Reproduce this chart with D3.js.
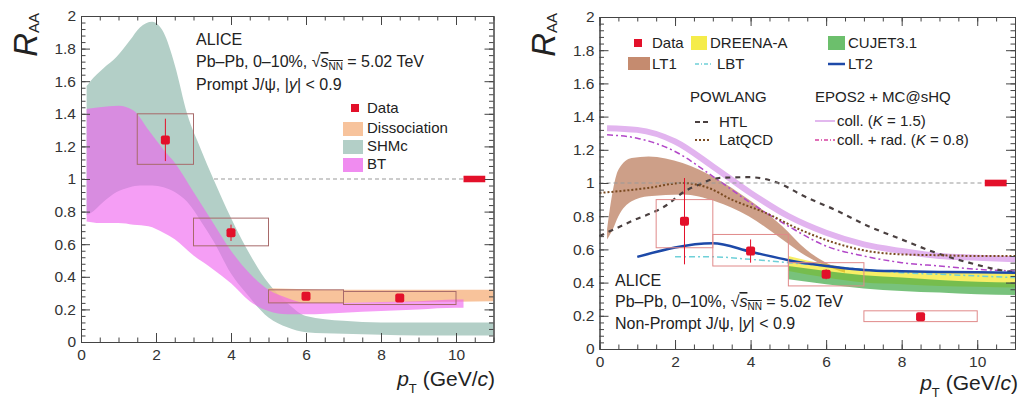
<!DOCTYPE html>
<html>
<head>
<meta charset="utf-8">
<script src="https://cdn.jsdelivr.net/npm/d3@7"></script>
<style>
  body { margin: 0; background: #fff; }
  svg text { font-family: "Liberation Sans", Arial, Helvetica, sans-serif; fill: #222; }
  .tick text { font-size: 15px; fill: #333; }
  .tick line, .domain { stroke: #444; }
  .lbl { font-size: 16px; }
  .leg { font-size: 15px; }
</style>
</head>
<body>
<script>
// ---- prompt J/psi (left) ----
var promptPt = [2.25, 4, 6, 8.5];
var promptRaa = [1.24, 0.67, 0.28, 0.27];
var promptStat = [0.13, 0.05, 0.02, 0.02];
var promptBinLo = [1.5, 3, 5, 7];
var promptBinHi = [3, 5, 7, 10];
var promptSysLo = [1.09, 0.59, 0.24, 0.23];
var promptSysHi = [1.40, 0.76, 0.32, 0.31];

var shmcPt = [0.15, 0.25, 0.6, 0.95, 1.3, 1.57, 1.9, 2.2, 2.5, 2.83, 3.2, 3.53, 4, 4.4, 5, 5.5, 6, 7, 8, 9, 10, 11];
var shmcHi = [1.57, 1.6, 1.68, 1.75, 1.85, 1.93, 1.965, 1.9, 1.7, 1.4, 1.18, 1.0, 0.76, 0.58, 0.36, 0.24, 0.16, 0.13, 0.12, 0.12, 0.12, 0.12];
var shmcLo = [0.78, 0.79, 0.86, 0.92, 0.95, 0.96, 0.96, 0.95, 0.92, 0.86, 0.74, 0.62, 0.42, 0.3, 0.15, 0.09, 0.06, 0.05, 0.045, 0.04, 0.04, 0.04];

var btPt = [0.15, 0.5, 1, 1.4, 1.8, 2.2, 2.5, 3, 3.5, 4, 4.5, 5, 5.5, 6, 7, 8, 9, 10, 10.2];
var btHi = [1.43, 1.44, 1.45, 1.42, 1.3, 1.18, 1.1, 0.92, 0.74, 0.56, 0.42, 0.32, 0.27, 0.24, 0.24, 0.245, 0.25, 0.26, 0.26];
var btLo = [0.74, 0.73, 0.73, 0.72, 0.71, 0.67, 0.63, 0.53, 0.45, 0.36, 0.25, 0.19, 0.17, 0.17, 0.18, 0.19, 0.2, 0.21, 0.21];

var dissPt = [5, 7, 9, 11];
var dissHi = [0.33, 0.32, 0.32, 0.32];
var dissLo = [0.24, 0.24, 0.245, 0.25];

// ---- non-prompt J/psi (right) ----
var npPt = [2.25, 4, 6, 8.5];
var npRaa = [0.77, 0.59, 0.45, 0.195];
var npStat = [0.26, 0.07, 0.03, 0.015];
var npBinLo = [1.5, 3, 5, 7];
var npBinHi = [3, 5, 7, 10];
var npSysLo = [0.61, 0.5, 0.38, 0.165];
var npSysHi = [0.90, 0.69, 0.52, 0.23];

var lt1Pt = [0.2, 0.35, 0.5, 0.85, 1.3, 2.2, 3.06, 3.95, 4.84, 5.47, 6.0, 6.5];
var lt1Hi = [0.72, 0.95, 1.08, 1.15, 1.16, 1.12, 1.03, 0.9, 0.74, 0.6, 0.52, 0.48];
var lt1Lo = [0.66, 0.72, 0.8, 0.89, 0.92, 0.93, 0.89, 0.8, 0.66, 0.56, 0.5, 0.46];

var dreenaPt = [5, 6, 7, 8, 9, 10, 11];
var dreenaHi = [0.56, 0.51, 0.48, 0.47, 0.46, 0.46, 0.46];
var dreenaLo = [0.47, 0.43, 0.4, 0.39, 0.38, 0.375, 0.37];

var cujetPt = [5, 6, 7, 8, 9, 10, 11];
var cujetHi = [0.5, 0.47, 0.445, 0.43, 0.415, 0.405, 0.4];
var cujetLo = [0.42, 0.39, 0.365, 0.35, 0.34, 0.33, 0.325];

var lbtPt = [2, 3, 4, 5, 6, 7, 8, 9, 10, 11];
var lbtRaa = [0.555, 0.555, 0.54, 0.52, 0.5, 0.48, 0.46, 0.45, 0.44, 0.43];

var lt2Pt = [1, 3, 4, 5, 6, 7, 8, 9, 10, 11];
var lt2Raa = [0.555, 0.637, 0.586, 0.535, 0.5, 0.476, 0.468, 0.464, 0.462, 0.46];

var htlPt = [0, 0.85, 1.73, 2.26, 2.63, 3.16, 3.96, 4.84, 5.33, 6.22, 7.12, 8, 8.9, 9.78, 10.5, 11];
var htlRaa = [0.68, 0.77, 0.86, 0.95, 0.99, 1.03, 1.035, 0.99, 0.93, 0.84, 0.74, 0.66, 0.58, 0.52, 0.48, 0.46];

var latPt = [0, 1.29, 2.18, 2.89, 3.5, 4.4, 5.3, 6.22, 7.1, 8, 9, 10, 11];
var latRaa = [0.94, 0.97, 1.0, 0.97, 0.9, 0.82, 0.72, 0.64, 0.59, 0.57, 0.565, 0.56, 0.56];

var collPt = [0.2, 1, 2, 3, 4, 5, 6, 7, 8, 9, 10, 11];
var collRaa = [1.33, 1.32, 1.25, 1.1, 0.94, 0.8, 0.7, 0.63, 0.59, 0.56, 0.55, 0.54];

var radPt = [0.2, 1, 2, 3, 4, 5, 6, 7, 8, 9, 10, 11];
var radRaa = [1.29, 1.27, 1.19, 1.04, 0.88, 0.74, 0.62, 0.56, 0.52, 0.5, 0.48, 0.47];

var yTicks = d3.range(0, 2.001, 0.2);
var xTicks = [0, 2, 4, 6, 8, 10];

var svg = d3.select("body").append("svg").attr("width", 1019).attr("height", 403);

var red = "#e3102a";

function band(g, x, y, pt, hi, lo, color, op) {
  var rows = pt.map(function(d, i) { return {x: d, hi: hi[i], lo: lo[i]}; });
  g.append("path").datum(rows)
    .attr("d", d3.area().x(function(d) { return x(d.x); }).y0(function(d) { return y(d.lo); })
      .y1(function(d) { return y(d.hi); }).curve(d3.curveMonotoneX))
    .attr("fill", color).attr("fill-opacity", op);
}

function curve(g, x, y, pt, v, color, w, dash) {
  var rows = pt.map(function(d, i) { return [d, v[i]]; });
  g.append("path").datum(rows)
    .attr("d", d3.line().x(function(d) { return x(d[0]); }).y(function(d) { return y(d[1]); }).curve(d3.curveMonotoneX))
    .attr("fill", "none").attr("stroke", color).attr("stroke-width", w)
    .attr("stroke-dasharray", dash || null);
}

function unityLine(g, x, y) {
  g.append("line").attr("x1", x(0)).attr("x2", x(10.2)).attr("y1", y(1)).attr("y2", y(1))
    .attr("stroke", "#999").attr("stroke-dasharray", "4,3");
  g.append("rect").attr("x", x(10.2)).attr("width", x(10.78) - x(10.2))
    .attr("y", y(1.02)).attr("height", y(0.98) - y(1.02)).attr("fill", red);
}

function points(g, x, y, pt, raa, stat, bLo, bHi, sLo, sHi, boxColor) {
  pt.forEach(function(p, i) {
    g.append("rect").attr("x", x(bLo[i])).attr("width", x(bHi[i]) - x(bLo[i]))
      .attr("y", y(sHi[i])).attr("height", y(sLo[i]) - y(sHi[i]))
      .attr("fill", "none").attr("stroke", boxColor).attr("stroke-width", 1);
    g.append("line").attr("x1", x(p)).attr("x2", x(p))
      .attr("y1", y(raa[i] - stat[i])).attr("y2", y(raa[i] + stat[i]))
      .attr("stroke", red).attr("stroke-width", 1);
    g.append("rect").attr("x", x(p) - 4.5).attr("y", y(raa[i]) - 4.5)
      .attr("width", 9).attr("height", 9).attr("rx", 2).attr("fill", red);
  });
}

function frame(g, x, y) {
  var fmt = function(d) { return String(+d.toFixed(1)); };
  var x0 = x.range()[0], x1 = x.range()[1], y0 = y.range()[0], y1 = y.range()[1];
  g.append("g").attr("transform", "translate(0," + y0 + ")")
    .call(d3.axisBottom(x).tickValues(d3.range(0, 11.01, 0.5)).tickSize(-4.5).tickSizeOuter(0).tickFormat(""));
  g.append("g").attr("transform", "translate(0," + y0 + ")")
    .call(d3.axisBottom(x).tickValues(xTicks).tickSize(-9).tickSizeOuter(0).tickPadding(7).tickFormat(fmt));
  g.append("g").attr("transform", "translate(0," + y1 + ")")
    .call(d3.axisTop(x).tickValues(d3.range(0, 11.01, 0.5)).tickSize(-4.5).tickSizeOuter(0).tickFormat(""));
  g.append("g").attr("transform", "translate(0," + y1 + ")")
    .call(d3.axisTop(x).tickValues(xTicks).tickSize(-9).tickSizeOuter(0).tickFormat(""));
  g.append("g").attr("transform", "translate(" + x0 + ",0)")
    .call(d3.axisLeft(y).tickValues(d3.range(0, 2.001, 0.04)).tickSize(-4.5).tickSizeOuter(0).tickFormat(""));
  g.append("g").attr("transform", "translate(" + x0 + ",0)")
    .call(d3.axisLeft(y).tickValues(yTicks).tickSize(-9).tickSizeOuter(0).tickPadding(5).tickFormat(fmt));
  g.append("g").attr("transform", "translate(" + x1 + ",0)")
    .call(d3.axisRight(y).tickValues(d3.range(0, 2.001, 0.04)).tickSize(-4.5).tickSizeOuter(0).tickFormat(""));
  g.append("g").attr("transform", "translate(" + x1 + ",0)")
    .call(d3.axisRight(y).tickValues(yTicks).tickSize(-9).tickSizeOuter(0).tickFormat(""));
  g.selectAll(".tick line").attr("stroke", "#444");
  g.selectAll(".domain").attr("stroke", "#444");
  g.selectAll(".tick text").attr("fill", "#333").style("font-size", "15.5px");
}

function yTitle(g, px) {
  var t = g.append("text").attr("transform", "translate(" + px + ",13) rotate(-90)")
    .attr("text-anchor", "end");
  t.append("tspan").text("R").style("font-style", "italic").style("font-size", "33px");
  t.append("tspan").text("AA").style("font-size", "15px").attr("dy", 2);
}

function xTitle(g, px, py) {
  var t = g.append("text").attr("x", px).attr("y", py).attr("text-anchor", "end").style("font-size", "21px");
  t.append("tspan").text("p").style("font-style", "italic");
  t.append("tspan").text("T").style("font-size", "13px").attr("dy", 7);
  t.append("tspan").text(" (GeV/").attr("dy", -7);
  t.append("tspan").text("c").style("font-style", "italic");
  t.append("tspan").text(")");
}

function sysLine(g, px, py) {
  var t = g.append("text").attr("class", "lbl").attr("x", px).attr("y", py);
  t.append("tspan").text("Pb\u2013Pb, 0\u201310%, \u221A");
  var s = t.append("tspan").style("text-decoration", "overline");
  s.append("tspan").text("s").style("font-style", "italic");
  s.append("tspan").text("NN").style("font-size", "10px").attr("dy", 3);
  t.append("tspan").text(" = 5.02 TeV").attr("dy", -3);
}

function psiLine(g, px, py, label) {
  var t = g.append("text").attr("class", "lbl").attr("x", px).attr("y", py);
  t.append("tspan").text(label + " J/\u03C8, |");
  t.append("tspan").text("y").style("font-style", "italic");
  t.append("tspan").text("| < 0.9");
}

// ===== LEFT PANEL =====
var xL = d3.scaleLinear().domain([0, 11]).range([81, 493.5]);
var yL = d3.scaleLinear().domain([0, 2]).range([342, 16]);
var gL = svg.append("g");

unityLine(gL, xL, yL);
band(gL, xL, yL, shmcPt, shmcHi, shmcLo, "#b3cfc7", 1);
band(gL, xL, yL, dissPt, dissHi, dissLo, "#f7b98a", 0.85);
band(gL, xL, yL, btPt, btHi, btLo, "#ef62ef", 0.62);
points(gL, xL, yL, promptPt, promptRaa, promptStat, promptBinLo, promptBinHi, promptSysLo, promptSysHi, "#a86a6a");
frame(gL, xL, yL);
yTitle(gL, 37);
xTitle(gL, 495, 386);

gL.append("text").attr("class", "lbl").attr("x", 196).attr("y", 45).text("ALICE");
sysLine(gL, 196, 67);
psiLine(gL, 196, 90, "Prompt");

gL.append("rect").attr("x", 351).attr("y", 104).attr("width", 8).attr("height", 8).attr("fill", red);
gL.append("text").attr("class", "leg").attr("x", 367).attr("y", 113).text("Data");
var legL = [["Dissociation", "#f7c39c", 122], ["SHMc", "#b3cfc7", 140], ["BT", "#f08cf0", 158]];
legL.forEach(function(d) {
  gL.append("rect").attr("x", 343).attr("y", d[2]).attr("width", 20).attr("height", 14).attr("fill", d[1]);
  gL.append("text").attr("class", "leg").attr("x", 367).attr("y", d[2] + 11).text(d[0]);
});

// ===== RIGHT PANEL =====
var xR = d3.scaleLinear().domain([0, 11]).range([599.5, 1015]);
var yR = d3.scaleLinear().domain([0, 2]).range([349, 17]);
var gR = svg.append("g");

band(gR, xR, yR, lt1Pt, lt1Hi, lt1Lo, "#b5714f", 0.68);
band(gR, xR, yR, dreenaPt, dreenaHi, dreenaLo, "#f2e300", 0.6);
band(gR, xR, yR, cujetPt, cujetHi, cujetLo, "#3fa845", 0.7);
curve(gR, xR, yR, collPt, collRaa, "#e2b4ef", 6);
curve(gR, xR, yR, radPt, radRaa, "#b247c8", 1.5, "6,3,2,3");
curve(gR, xR, yR, htlPt, htlRaa, "#4a4040", 2.2, "5,5");
curve(gR, xR, yR, latPt, latRaa, "#7a4a20", 2, "2,2");
curve(gR, xR, yR, lbtPt, lbtRaa, "#6fd0d8", 1.5, "6,3,2,3");
curve(gR, xR, yR, lt2Pt, lt2Raa, "#1d49a8", 2.5);
unityLine(gR, xR, yR);
points(gR, xR, yR, npPt, npRaa, npStat, npBinLo, npBinHi, npSysLo, npSysHi, "#e08a8a");
frame(gR, xR, yR);
yTitle(gR, 555);
xTitle(gR, 1018, 390);

gR.append("text").attr("class", "lbl").attr("x", 615).attr("y", 286).text("ALICE");
sysLine(gR, 615, 307);
psiLine(gR, 615, 329, "Non-Prompt");

// legend
gR.append("rect").attr("x", 634).attr("y", 39).attr("width", 8).attr("height", 8).attr("fill", red);
gR.append("text").attr("class", "leg").attr("x", 652).attr("y", 48).text("Data");
gR.append("rect").attr("x", 691).attr("y", 36).attr("width", 16).attr("height", 14).attr("fill", "#f5ec4a");
gR.append("text").attr("class", "leg").attr("x", 710).attr("y", 48).text("DREENA-A");
gR.append("rect").attr("x", 828).attr("y", 36).attr("width", 17).attr("height", 14).attr("fill", "#6cbf6c");
gR.append("text").attr("class", "leg").attr("x", 848).attr("y", 48).text("CUJET3.1");
gR.append("rect").attr("x", 628).attr("y", 57).attr("width", 22).attr("height", 13).attr("fill", "#c58b6f");
gR.append("text").attr("class", "leg").attr("x", 652).attr("y", 69).text("LT1");
gR.append("line").attr("x1", 695).attr("x2", 711).attr("y1", 64).attr("y2", 64)
  .attr("stroke", "#6fd0d8").attr("stroke-width", 1.5).attr("stroke-dasharray", "4,2,1,2");
gR.append("text").attr("class", "leg").attr("x", 717).attr("y", 69).text("LBT");
gR.append("line").attr("x1", 828).attr("x2", 845).attr("y1", 64).attr("y2", 64)
  .attr("stroke", "#1d49a8").attr("stroke-width", 2.5);
gR.append("text").attr("class", "leg").attr("x", 848).attr("y", 69).text("LT2");

gR.append("text").attr("class", "leg").attr("x", 690).attr("y", 102).text("POWLANG");
gR.append("text").attr("class", "leg").attr("x", 815).attr("y", 102).text("EPOS2 + MC@sHQ");
gR.append("line").attr("x1", 695).attr("x2", 711).attr("y1", 122).attr("y2", 122)
  .attr("stroke", "#4a4040").attr("stroke-width", 2).attr("stroke-dasharray", "5,3");
gR.append("text").attr("class", "leg").attr("x", 719).attr("y", 127).text("HTL");
gR.append("line").attr("x1", 695).attr("x2", 711).attr("y1", 140).attr("y2", 140)
  .attr("stroke", "#7a4a20").attr("stroke-width", 2).attr("stroke-dasharray", "2,2");
gR.append("text").attr("class", "leg").attr("x", 719).attr("y", 145).text("LatQCD");
gR.append("line").attr("x1", 815).attr("x2", 835).attr("y1", 121).attr("y2", 121)
  .attr("stroke", "#d9a0e8").attr("stroke-width", 1.5);
var tc = gR.append("text").attr("class", "leg").attr("x", 837).attr("y", 126);
tc.append("tspan").text("coll. (");
tc.append("tspan").text("K").style("font-style", "italic");
tc.append("tspan").text(" = 1.5)");
gR.append("line").attr("x1", 815).attr("x2", 835).attr("y1", 140).attr("y2", 140)
  .attr("stroke", "#d640a0").attr("stroke-width", 1.5).attr("stroke-dasharray", "4,2,1,2");
var tr = gR.append("text").attr("class", "leg").attr("x", 837).attr("y", 145);
tr.append("tspan").text("coll. + rad. (");
tr.append("tspan").text("K").style("font-style", "italic");
tr.append("tspan").text(" = 0.8)");
</script>
</body>
</html>
